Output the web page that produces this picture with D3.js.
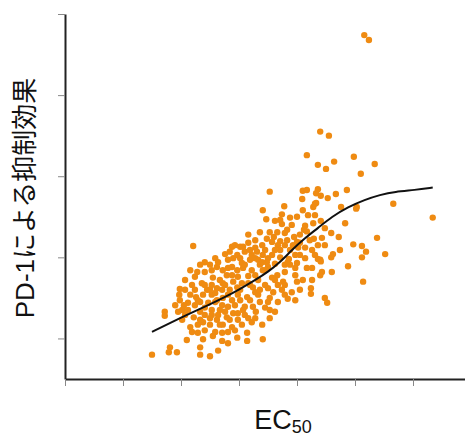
<!DOCTYPE html>
<html>
<head>
<meta charset="utf-8">
<script src="https://cdn.jsdelivr.net/npm/d3@7"></script>
<style>
  html, body { margin: 0; padding: 0; background: #fff; }
  svg { display: block; }
</style>
</head>
<body>
<svg id="chart" width="465" height="436"></svg>
<script>
// ---- data ----
const xTicks = [0, 1, 2, 3, 4, 5, 6];
const yTicks = [0.5, 1.5, 2.5, 3.5, 4.5];
const yLabel = "PD-1による抑制効果";
const xLabelMain = "EC";
const xLabelSub = "50";

// scatter samples: [EC50, suppression]
const samples = [
  [5.16,4.24],[5.24,4.18],[4.40,3.05],[4.55,3.00],[4.17,2.76],[4.98,2.74],[4.64,2.68],[4.36,2.64],[5.34,2.65],[4.50,2.59],[5.10,2.53],
  [4.10,2.32],[4.17,2.33],[4.36,2.34],[4.33,2.29],[4.41,2.26],[4.53,2.23],[4.67,2.28],[4.86,2.33],[3.53,2.31],[4.09,2.22],
  [4.76,2.12],[5.03,2.12],[5.02,2.10],[5.66,2.16],[4.28,2.12],[4.31,2.16],[4.10,2.08],[4.33,2.17],[3.78,2.13],[3.41,2.08],
  [4.19,2.02],[4.31,2.02],[3.74,2.03],[4.00,2.00],
  [6.34,1.99],[4.83,1.92],[4.28,1.92],[4.41,1.95],[3.47,1.97],[3.62,1.95],[3.74,1.91],[3.91,1.90],[4.14,1.89],[4.12,1.84],
  [3.83,1.84],[4.48,1.86],[3.71,1.96],
  [4.59,1.80],[4.72,1.75],[5.38,1.74],[4.17,1.82],[4.29,1.73],[4.43,1.74],[3.36,1.81],[3.48,1.73],[3.79,1.80],[3.95,1.75],
  [3.60,1.75],[3.71,1.70],[4.00,1.69],[3.57,1.69],[4.05,1.68],[3.93,1.65],[3.67,1.65],[4.97,1.66],[5.12,1.64],[2.21,1.64],
  [3.16,1.68],[2.93,1.65],[2.88,1.63],[3.53,1.81],
  [5.19,1.57],[4.74,1.59],[4.62,1.54],[4.59,1.50],[5.52,1.54],[4.40,1.47],[3.71,1.59],[4.02,1.62],[3.57,1.53],[3.50,1.49],
  [3.71,1.50],[3.86,1.48],[4.36,1.48],[5.12,1.50],[3.02,1.63],[3.07,1.63],[3.28,1.62],[2.76,1.54],[2.97,1.53],[3.10,1.57],
  [3.22,1.53],[3.31,1.57],[3.41,1.53],[3.19,1.47],[3.33,1.47],[3.48,1.44],
  [4.88,1.39],[4.60,1.32],[4.43,1.32],[4.17,1.37],[4.26,1.37],[3.62,1.42],[3.79,1.41],[2.62,1.38],[2.72,1.34],[2.88,1.38],
  [2.97,1.34],[3.07,1.37],[3.22,1.34],[3.41,1.34],[2.28,1.32],[2.41,1.32],[2.53,1.34],[2.24,1.26],[2.55,1.25],[2.79,1.28],
  [2.90,1.20],[2.72,1.18],[4.00,1.43],[3.84,1.44],[3.50,1.38],[3.28,1.28],[3.05,1.43],[2.98,1.26],[3.57,1.25],[3.66,1.28],
  [3.79,1.32],[4.10,1.22],[4.26,1.22],[4.41,1.45],
  [5.14,1.20],[4.24,1.12],[4.24,1.05],[4.48,1.00],[4.52,0.94],[2.36,1.18],[2.45,1.10],[2.53,1.04],[2.38,1.04],[2.62,0.97],
  [2.72,1.00],[2.81,1.04],[2.62,1.12],[2.97,1.13],[1.98,1.11],[1.97,1.04],[1.98,0.97],[3.02,1.10],[3.14,1.01],[3.28,1.07],
  [3.24,1.13],[3.16,1.18],[3.67,1.16],[3.50,1.12],[3.59,1.07],[3.91,1.07],[3.79,1.04],[3.84,0.99],[4.00,1.20],
  [2.33,0.95],[2.47,0.94],[2.12,0.94],[2.24,0.91],[2.02,0.85],[1.72,0.83],[1.72,0.78],[2.22,0.76],[2.38,0.70],[2.62,0.73],
  [2.67,0.85],[2.53,0.85],[2.33,0.83],[2.90,0.81],[2.98,0.73],[2.79,0.76],[2.81,0.89],[2.98,0.81],[3.10,0.89],[3.24,0.89],
  [3.45,0.88],[3.36,0.95],[3.50,0.95],[3.67,0.95],[3.62,0.83],[3.16,0.75],
  [3.22,0.70],[2.16,0.64],[2.19,0.58],[2.29,0.67],[2.29,0.57],[2.41,0.60],[2.50,0.67],[2.72,0.67],[2.71,0.57],[2.81,0.58],
  [2.88,0.64],[2.38,0.49],[2.71,0.47],[2.55,0.53],[2.97,0.51],[2.59,0.58],[3.14,0.57],[3.14,0.47],[3.41,0.49],
  [1.50,0.30],[1.81,0.39],[1.79,0.33],[1.93,0.33],[2.33,0.39],[2.33,0.30],[2.50,0.28],[2.64,0.35],
  [2.41,1.44],[2.59,1.49],[2.81,1.47],[2.67,1.22],[2.84,1.10],[3.02,0.97],[2.93,0.91],[2.76,0.83],[2.50,0.75],[2.41,1.16],
  [2.24,1.10],[2.16,1.04],[2.07,0.79],[2.59,0.95],[3.05,1.18],[3.33,1.22],[3.45,1.16],[3.33,1.04],[3.19,0.97],[3.10,0.79],
  [2.88,0.97],[2.71,1.10],[2.53,1.16],[2.33,1.41],[2.16,1.34],[2.07,1.22],[1.90,0.91],[2.50,1.41],[2.90,1.49],[3.16,1.27],
  [3.36,1.41],[3.53,1.00],[3.76,1.20],[3.97,1.28],[4.05,1.53],[3.88,1.59],[3.83,1.71],[3.66,1.81],[3.28,1.71],[3.16,1.78],
  [3.40,1.65],[4.05,1.78],[3.88,1.99],[4.26,1.59],[4.36,1.65],[4.14,1.49],[3.97,1.37],[3.74,1.10],[3.53,0.85],[3.29,0.83],
  [3.05,0.67],[2.84,0.73],[2.64,0.79],[2.41,0.79],[2.02,0.73],[2.10,0.48],[2.81,0.44],[2.26,1.01],[2.05,0.91],
  [2.19,1.16],[2.29,0.97],[2.41,0.88],[2.59,1.06],[2.76,1.16],[2.88,1.28],[3.10,1.41],[3.28,1.49],[3.19,1.16],[2.98,1.04],
  [2.71,0.91],[2.53,0.79],[2.33,0.73],[2.67,0.67],[2.93,0.60],[2.50,1.10],[2.81,1.37],[2.64,1.44],[3.36,1.10],[3.45,1.34],
  [3.62,1.22],[3.79,1.16],[3.88,1.41],[3.97,1.53],[4.14,1.62],[4.22,1.71],[3.79,1.65],[3.62,1.59],[3.45,1.59],[3.40,1.44],
  [3.19,1.59],[3.02,1.49],[2.84,1.57],[2.07,1.10],[2.12,0.85],[1.95,0.83],[3.07,0.85],[3.28,0.75],[3.40,0.67],[3.53,0.75],
  [3.97,0.97],[4.05,1.10],[4.40,1.28],[4.31,1.53],[4.48,1.65]
];

// fitted trend line
const curveEC50   = [1.50,1.81,2.16,2.50,2.76,3.02,3.28,3.50,3.71,3.91,4.14,4.36,4.60,4.88,5.17,5.43,5.69,6.03,6.34];
const curveEffect = [0.58,0.69,0.81,0.92,1.01,1.11,1.22,1.32,1.44,1.59,1.74,1.86,2.00,2.12,2.21,2.27,2.31,2.33,2.36];

// ---- chart ----
const svg = d3.select("#chart");
const x = d3.scaleLinear().domain([0, 400 / 58]).range([65, 465]);
const y = d3.scaleLinear().domain([0, 4.5]).range([379, 14]);

// points
svg.append("g")
  .selectAll("circle")
  .data(samples)
  .join("circle")
  .attr("cx", d => x(d[0]))
  .attr("cy", d => y(d[1]))
  .attr("r", 3.2)
  .attr("fill", "#EF8B12");

// trend line
const line = d3.line()
  .x(d => x(d[0]))
  .y(d => y(d[1]))
  .curve(d3.curveBasis);
svg.append("path")
  .datum(curveEC50.map((v, i) => [v, curveEffect[i]]))
  .attr("d", line)
  .attr("fill", "none")
  .attr("stroke", "#111")
  .attr("stroke-width", 2);

// axes
const yAxis = d3.axisLeft(y).tickValues(yTicks).tickSize(7).tickSizeOuter(0).tickFormat("");
const xAxis = d3.axisBottom(x).tickValues(xTicks).tickSize(7).tickSizeOuter(0).tickFormat("");

const gy = svg.append("g").attr("transform", "translate(65,0)").call(yAxis);
const gx = svg.append("g").attr("transform", "translate(0,379)").call(xAxis);
[gx, gy].forEach(g => {
  g.select(".domain").attr("stroke", "#222").attr("stroke-width", 2);
  g.selectAll(".tick line").attr("stroke", "#888").attr("stroke-width", 1);
});

// y label
svg.append("text")
  .attr("transform", "translate(34,198) rotate(-90)")
  .attr("text-anchor", "middle")
  .style("font-family", "'Liberation Sans', 'Noto Sans CJK JP', sans-serif")
  .style("font-size", "26px")
  .attr("fill", "#111")
  .text(yLabel);

// x label
const xl = svg.append("text")
  .attr("x", 283)
  .attr("y", 429)
  .attr("text-anchor", "middle")
  .style("font-family", "'Liberation Sans', 'Noto Sans CJK JP', sans-serif")
  .style("font-size", "27px")
  .attr("fill", "#111");
xl.append("tspan").text(xLabelMain);
xl.append("tspan").attr("dy", 4).style("font-size", "18px").text(xLabelSub);
</script>
</body>
</html>
